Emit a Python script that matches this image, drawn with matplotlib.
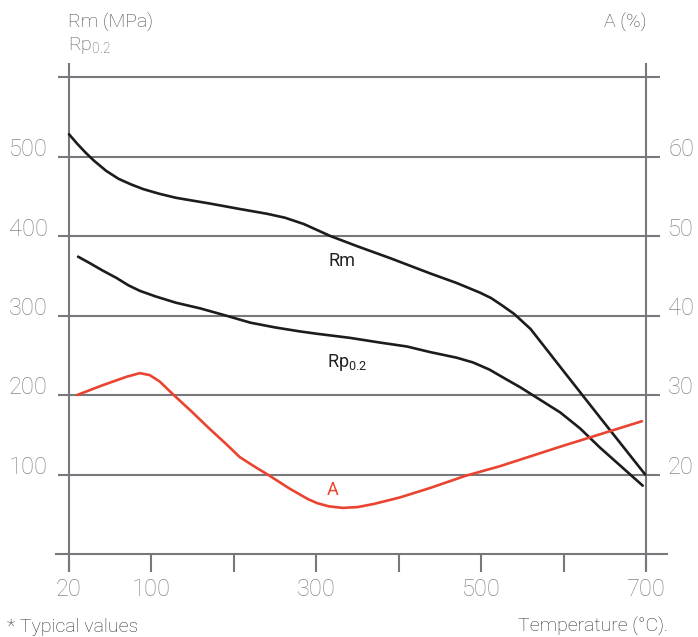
import matplotlib
matplotlib.use("Agg")
import matplotlib.pyplot as plt
from matplotlib.transforms import offset_copy

# ---- data (x positions: tick slots 0..700, first slot labelled "20") ----
x_ticks = [0, 100, 200, 300, 400, 500, 600, 700]
x_labels = ["20", "100", "", "300", "", "500", "", "700"]
y_ticks = [100, 200, 300, 400, 500]
y_left_labels = ["100", "200", "300", "400", "500"]
a_ticks = [20, 30, 40, 50, 60]
a_labels = ["20", "30", "40", "50", "60"]

rm_x = [0, 10, 20, 30, 45, 60, 75, 90, 110, 130, 170, 207, 240, 262, 285, 317,
        350, 390, 438, 470, 498, 512, 525, 540, 560, 600, 644, 699]
rm_y = [528, 516, 505, 495, 482, 472, 465, 459, 453, 448, 441, 434, 428, 423, 415, 400,
        387, 372, 353, 341, 329, 322, 313, 302, 283, 230, 172, 100]

rp_x = [11, 25, 40, 58, 72, 86, 105, 130, 159, 190, 220, 250, 280, 301, 340, 377,
        410, 438, 470, 490, 510, 530, 547, 570, 596, 620, 644, 670, 696]
rp_y = [374, 366, 357, 347, 338, 331, 324, 316, 309, 300, 291, 285, 280, 277, 272, 266,
        261, 254, 247, 241, 232, 220, 210, 195, 178, 158, 134, 110, 86]

a_x = [10, 40, 70, 86, 98, 110, 126, 150, 170, 190, 207, 225, 244, 268, 290, 301,
       315, 332, 350, 370, 401, 438, 480, 523, 596, 695]
a_y = [30.0, 31.2, 32.3, 32.75, 32.5, 31.7, 30.1, 27.8, 25.8, 23.9, 22.2, 21.0, 19.8, 18.2,
       16.9, 16.4, 16.0, 15.8, 15.9, 16.3, 17.1, 18.3, 19.8, 21.05, 23.5, 26.7]

GRID = "#77777c"
TICKTXT = "#85858b"
BLACK = "#1c1c1c"
RED = "#ea4430"
FONT = "Roboto"

fig = plt.figure(figsize=(6.98, 6.37), dpi=100)
ax = fig.add_axes([69 / 698, 1 - 554 / 637, (646 - 69) / 698, (554 - 77) / 637])
ax.set_xlim(0, 700)
ax.set_ylim(0, 600)
ax.axis("off")

# grid lines (extend past both vertical axes)
ax.hlines(y_ticks + [600], -13, 717, color=GRID, lw=1.5, clip_on=False, zorder=1)
# bottom axis
ax.hlines([0], -17, 727, color=GRID, lw=1.5, clip_on=False, zorder=1)
# vertical axes
ax.vlines([0, 700], -22.6, 617.6, color=GRID, lw=1.5, clip_on=False, zorder=1)
# x ticks
ax.vlines(x_ticks, -22.6, 0, color=GRID, lw=1.5, clip_on=False, zorder=1)

# curves
kw = dict(lw=1.9, solid_capstyle="round", solid_joinstyle="round", zorder=3, clip_on=False)
ax.plot(rm_x, rm_y, color=BLACK, **kw)
ax.plot(rp_x, rp_y, color=BLACK, **kw)

ax2 = ax.twinx()
ax2.set_ylim(10, 70)
ax2.axis("off")
ax2.plot(a_x, a_y, color=RED, **kw)

# left tick labels (slightly above their gridlines)
tl = offset_copy(ax.transData, fig=fig, x=-21, y=7, units="dots")
for v, s in zip(y_ticks, y_left_labels):
    ax.text(0, v, s, transform=tl, ha="right", va="center", fontsize=17,
            family=FONT, fontweight="light", color=TICKTXT)
tr = offset_copy(ax2.transData, fig=fig, x=22, y=7, units="dots")
for v, s in zip(a_ticks, a_labels):
    ax2.text(700, v, s, transform=tr, ha="left", va="center", fontsize=17,
             family=FONT, fontweight="light", color=TICKTXT)
tb = offset_copy(ax.transData, fig=fig, x=0, y=-35, units="dots")
for xv, s in zip(x_ticks, x_labels):
    if s:
        ax.text(xv, 0, s, transform=tb, ha="center", va="center", fontsize=17,
                family=FONT, fontweight="light", color=TICKTXT)

# curve labels
ax.text(331, 368, "Rm", ha="center", va="center", fontsize=13, family=FONT, color="#222222")
ax.text(313, 241, r"Rp$_{\mathregular{0.2}}$", ha="left", va="center", fontsize=13,
        family=FONT, color="#222222")
ax.text(320, 80, "A", ha="center", va="center", fontsize=13, family=FONT, color=RED)

# axis titles and notes
fig.text(68 / 698, 1 - 22 / 637, "Rm (MPa)", ha="left", va="center", fontsize=14,
         family=FONT, fontweight="light", color="#444444")
fig.text(68 / 698, 1 - 46 / 637, r"Rp$_{\mathregular{0.2}}$", ha="left", va="center", fontsize=14,
         family=FONT, fontweight="light", color="#555555")
fig.text(646 / 698, 1 - 22 / 637, "A (%)", ha="right", va="center", fontsize=14,
         family=FONT, fontweight="light", color="#444444")
fig.text(7 / 698, 1 - 627 / 637, "* Typical values", ha="left", va="center", fontsize=14,
         family=FONT, fontweight="light", color="#333333")
fig.text(668 / 698, 1 - 627 / 637, "Temperature (°C).", ha="right", va="center", fontsize=14,
         family=FONT, fontweight="light", color="#333333")

fig.savefig("out.png", dpi=100)
